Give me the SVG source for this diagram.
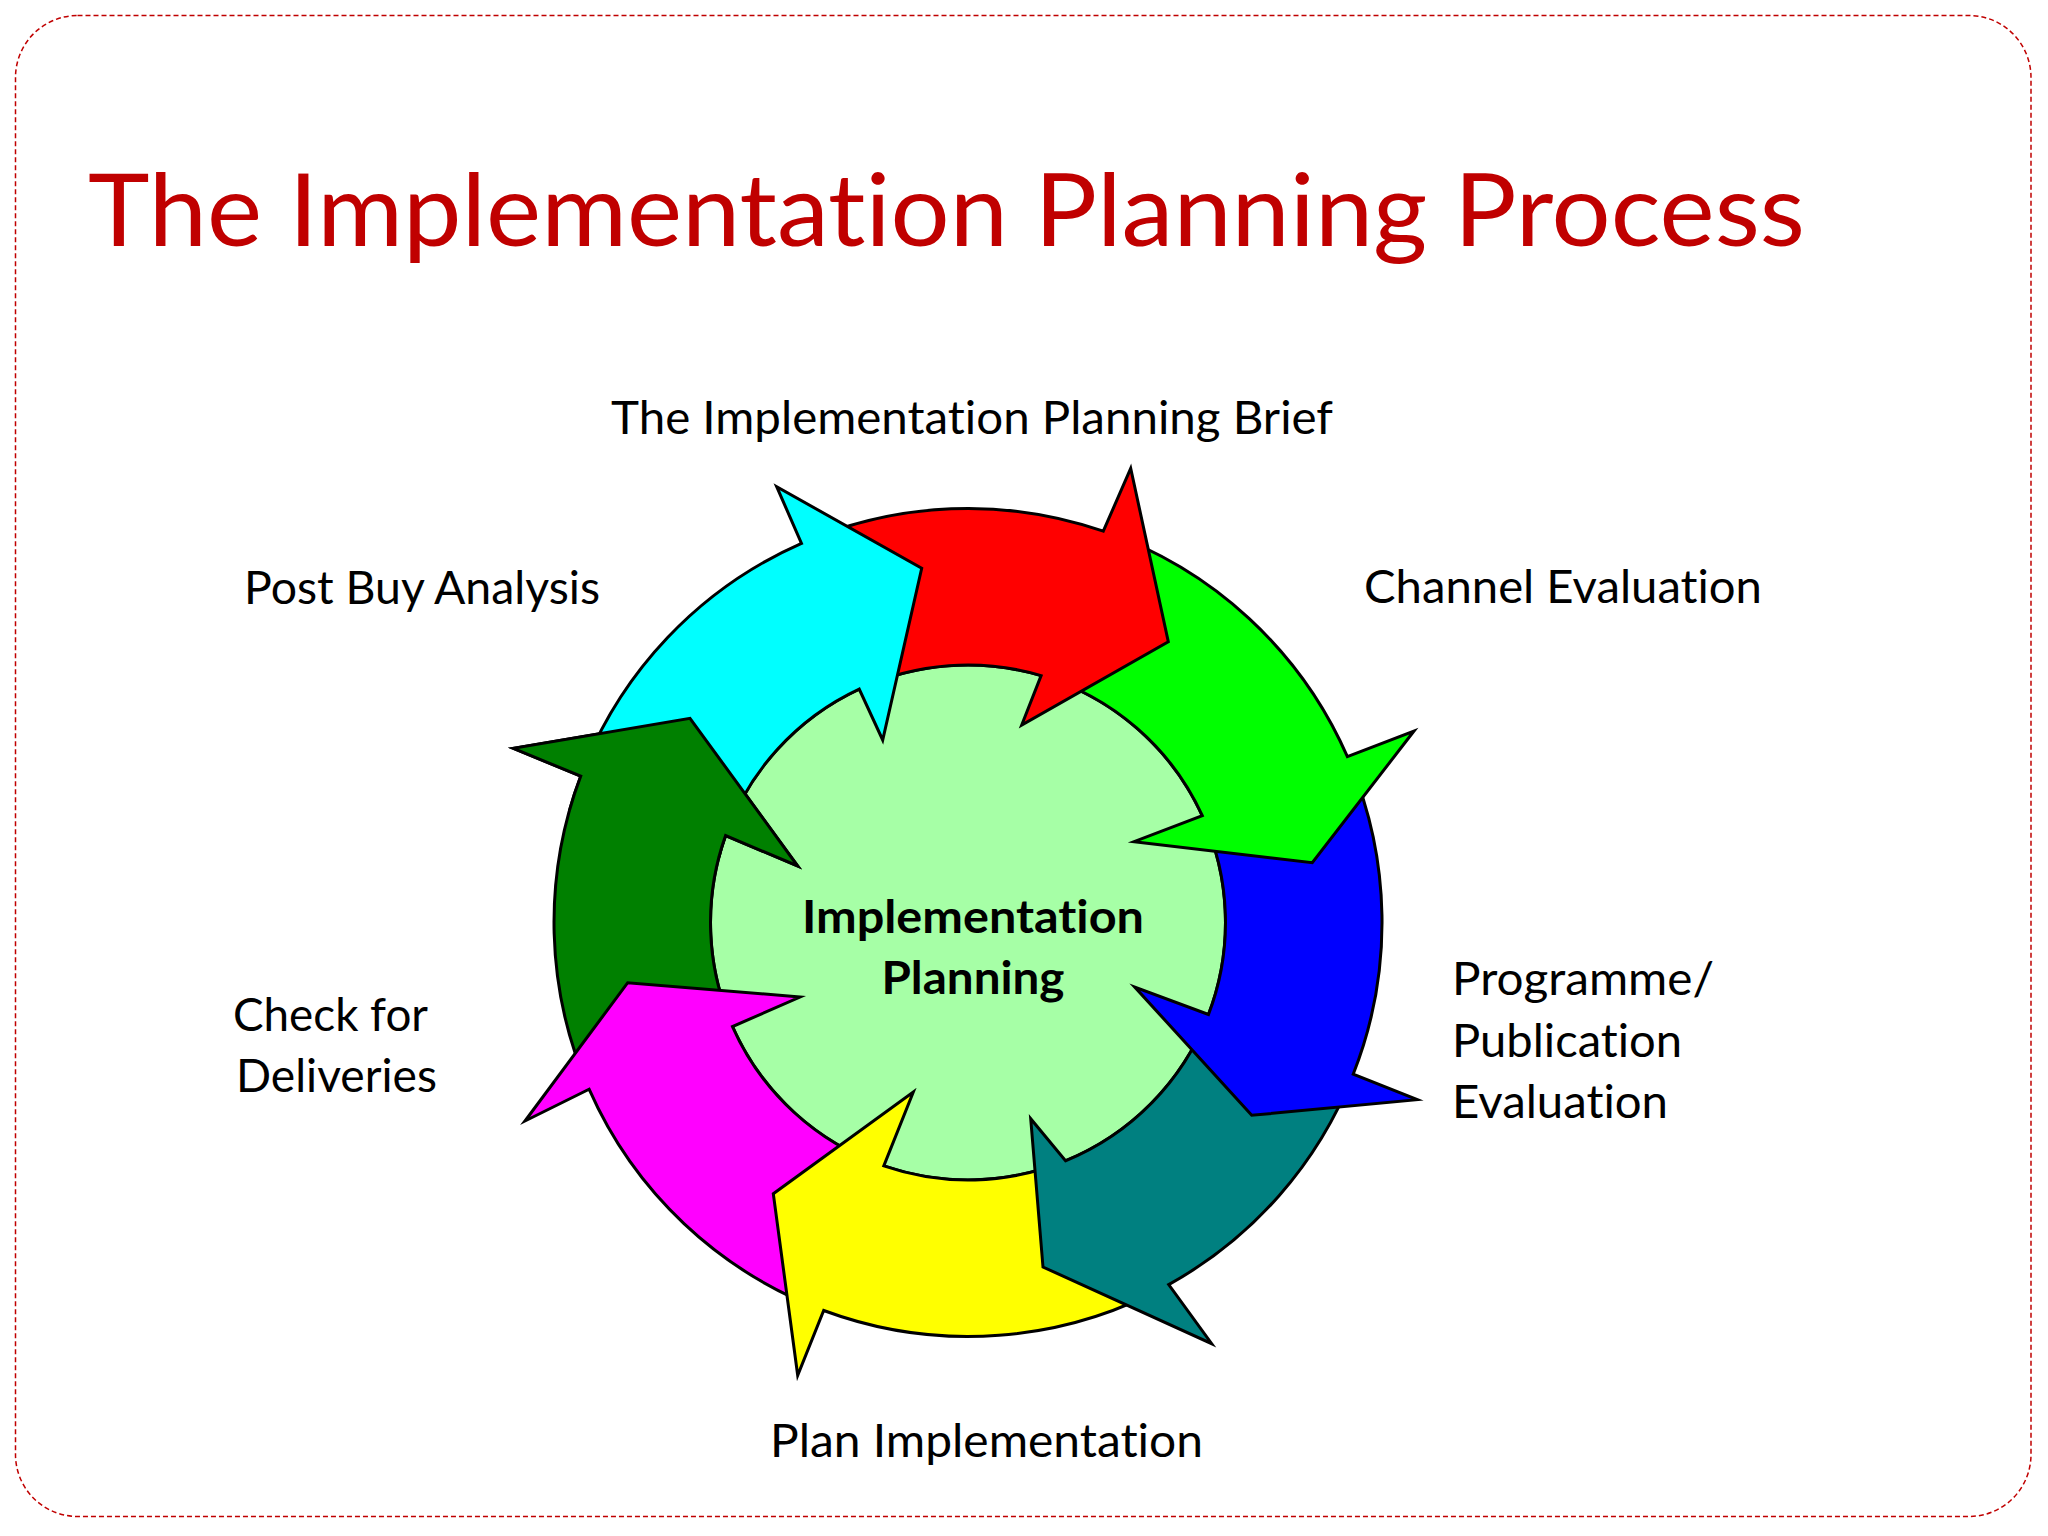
<svg xmlns="http://www.w3.org/2000/svg" width="2048" height="1536" viewBox="0 0 2048 1536">
<style>
  text { font-variant-ligatures: none; font-feature-settings: "liga" 0, "clig" 0, "dlig" 0; }
  .arrow { stroke:#000; stroke-width:3; stroke-linejoin:miter; stroke-miterlimit:10; }
  .lbl { font-family: Lato, "Open Sans", "Liberation Sans", sans-serif; font-size:45.6px; fill:#000; }
  .ctr { font-family: Lato, "Open Sans", "Liberation Sans", sans-serif; font-size:45.6px; font-weight:bold; fill:#000; }
  .title { font-family: Lato, "Open Sans", "Liberation Sans", sans-serif; font-size:100.5px; fill:#C00000; }
</style>
<rect x="0" y="0" width="2048" height="1536" fill="#FFFFFF"/>
<rect x="15.5" y="15.5" width="2015.5" height="1501" rx="62" ry="62" fill="none" stroke="#C00000" stroke-width="1.5" stroke-dasharray="5 3"/>
<text class="title" x="88" y="246" textLength="1717" lengthAdjust="spacingAndGlyphs">The Implementation Planning Process</text>

<g id="hub">
  <circle cx="968" cy="922.5" r="257.5" fill="#A6FFA6" stroke="#000" stroke-width="3"/>
  <text class="ctr" x="973" y="933" text-anchor="middle" textLength="342" lengthAdjust="spacingAndGlyphs">Implementation</text>
  <text class="ctr" x="973" y="994" text-anchor="middle" textLength="183" lengthAdjust="spacingAndGlyphs">Planning</text>
</g>

<g id="connectors">
  <path id="arrow-dkgreen" class="arrow" fill="#008000" d="M 589.1 1089.2 A 414 414 0 0 1 580.7 776.2 L 513.3 748.3 L 690 718.3 L 797.7 866 L 725.6 835.6 A 257.5 257.5 0 0 0 732.5 1026.6 Z"/>
  <path id="arrow-magenta" class="arrow" fill="#FF00FF" d="M 823.7 1310.5 A 414 414 0 0 1 589.1 1089.2 L 525 1121 L 627.7 982.7 L 800 997 L 732.5 1026.6 A 257.5 257.5 0 0 0 883.8 1165.9 Z"/>
  <path id="arrow-yellow" class="arrow" fill="#FFFF00" d="M 1168.7 1284.6 A 414 414 0 0 1 823.7 1310.5 L 797.7 1375.3 L 773.3 1193.7 L 913.3 1092 L 883.8 1165.9 A 257.5 257.5 0 0 0 1065.5 1160.8 Z"/>
  <path id="arrow-teal" class="arrow" fill="#008080" d="M 1353.2 1074.2 A 414 414 0 0 1 1168.7 1284.6 L 1211.7 1343.7 L 1043 1267 L 1030.7 1118.7 L 1065.5 1160.8 A 257.5 257.5 0 0 0 1208.5 1014.5 Z"/>
  <path id="arrow-blue" class="arrow" fill="#0000FF" d="M 1347.4 756.7 A 414 414 0 0 1 1353.2 1074.2 L 1417.3 1099.7 L 1251.7 1115.3 L 1134.7 987 L 1208.5 1014.5 A 257.5 257.5 0 0 0 1202.3 815.7 Z"/>
  <path id="arrow-green" class="arrow" fill="#00FF00" d="M 1103.3 531.2 A 414 414 0 0 1 1347.4 756.7 L 1414 731 L 1312.3 862.7 L 1134 841.7 L 1202.3 815.7 A 257.5 257.5 0 0 0 1041.1 675.6 Z"/>
  <path id="arrow-red" class="arrow" fill="#FF0000" d="M 801.5 543.4 A 414 414 0 0 1 1103.3 531.2 L 1130.7 468.3 L 1168.3 641.7 L 1021.7 725 L 1041.1 675.6 A 257.5 257.5 0 0 0 859.2 689.1 Z"/>
  <path id="arrow-cyan" class="arrow" fill="#00FFFF" d="M 580.7 776.2 A 414 414 0 0 1 801.5 543.4 L 776.7 486.7 L 921.7 568.3 L 882.7 740 L 859.2 689.1 A 257.5 257.5 0 0 0 725.6 835.6 Z"/>
  <path id="arrow-dkgreen-head" class="arrow" fill="#008000" d="M 569.4 810.6 A 414 414 0 0 1 580.7 776.2 L 513.3 748.3 L 690 718.3 L 797.7 866 L 725.6 835.6 A 257.5 257.5 0 0 0 718.9 857.1"/>
</g>

<g id="label-brief"><text class="lbl" x="972" y="434" text-anchor="middle" textLength="722" lengthAdjust="spacingAndGlyphs">The Implementation Planning Brief</text></g>
<g id="label-channel"><text class="lbl" x="1364" y="603" textLength="398" lengthAdjust="spacingAndGlyphs">Channel Evaluation</text></g>
<g id="label-programme">
  <text class="lbl" x="1452" y="995" textLength="262" lengthAdjust="spacingAndGlyphs">Programme/</text>
  <text class="lbl" x="1452" y="1057" textLength="230" lengthAdjust="spacingAndGlyphs">Publication</text>
  <text class="lbl" x="1452" y="1118" textLength="216" lengthAdjust="spacingAndGlyphs">Evaluation</text>
</g>
<g id="label-plan"><text class="lbl" x="770" y="1457" textLength="433" lengthAdjust="spacingAndGlyphs">Plan Implementation</text></g>
<g id="label-check">
  <text class="lbl" x="233" y="1031" textLength="195" lengthAdjust="spacingAndGlyphs">Check for</text>
  <text class="lbl" x="236" y="1092" textLength="201" lengthAdjust="spacingAndGlyphs">Deliveries</text>
</g>
<g id="label-postbuy"><text class="lbl" x="244" y="604" textLength="356" lengthAdjust="spacingAndGlyphs">Post Buy Analysis</text></g>
</svg>
